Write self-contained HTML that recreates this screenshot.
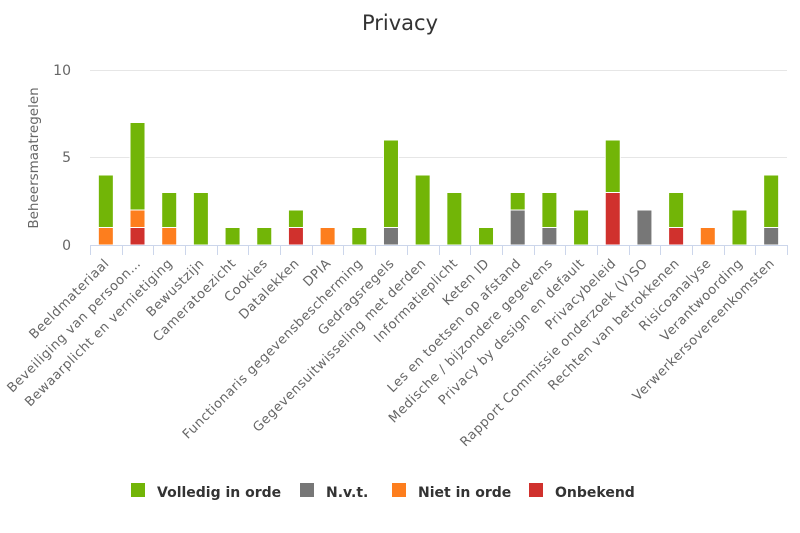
<!DOCTYPE html>
<html><head><meta charset="utf-8"><style>body{margin:0;background:#fff}svg{display:block;font-family:"DejaVu Sans","Liberation Sans",sans-serif}</style></head><body>
<svg width="800" height="533" xmlns="http://www.w3.org/2000/svg">
<text x="400" y="30" text-anchor="middle" font-size="21" fill="#333">Privacy</text>
<g stroke="#e6e6e6" stroke-width="1"><line x1="90" y1="70.5" x2="787" y2="70.5"/><line x1="90" y1="157.5" x2="787" y2="157.5"/></g>
<g font-size="14" fill="#666" text-anchor="end"><text x="71" y="75">10</text><text x="71" y="162">5</text><text x="71" y="250">0</text></g>
<text transform="translate(38,158) rotate(-90)" text-anchor="middle" font-size="13.5" fill="#666">Beheersmaatregelen</text>
<g id="bars"></g>
<line x1="90" y1="245.5" x2="787" y2="245.5" stroke="#ccd6eb"/>
<g id="ticks" stroke="#ccd6eb"></g>
<g id="labels" font-size="13" letter-spacing="0.55" fill="#666" text-anchor="end"></g>
<g font-size="14" font-weight="bold" fill="#333">
<rect x="131" y="483" width="14" height="14" fill="#72b507"/><text x="157" y="497">Volledig in orde</text>
<rect x="300" y="483" width="14" height="14" fill="#777"/><text x="326" y="497">N.v.t.</text>
<rect x="392" y="483" width="14" height="14" fill="#fd7e1e"/><text x="418" y="497">Niet in orde</text>
<rect x="529" y="483" width="14" height="14" fill="#d0312d"/><text x="555" y="497">Onbekend</text>
</g>
</svg>
<script>
var d=[["Beeldmateriaal",0,1,0,3],["Beveiliging van persoon…",1,1,0,5],["Bewaarplicht en vernietiging",0,1,0,2],["Bewustzijn",0,0,0,3],["Cameratoezicht",0,0,0,1],["Cookies",0,0,0,1],["Datalekken",1,0,0,1],["DPIA",0,1,0,0],["Functionaris gegevensbescherming",0,0,0,1],["Gedragsregels",0,0,1,5],["Gegevensuitwisseling met derden",0,0,0,4],["Informatieplicht",0,0,0,3],["Keten ID",0,0,0,1],["Les en toetsen op afstand",0,0,2,1],["Medische / bijzondere gegevens",0,0,1,2],["Privacy by design en default",0,0,0,2],["Privacybeleid",3,0,0,3],["Rapport Commissie onderzoek (V)SO",0,0,2,0],["Rechten van betrokkenen",1,0,0,2],["Risicoanalyse",0,1,0,0],["Verantwoording",0,0,0,2],["Verwerkersovereenkomsten",0,0,1,3]];
var col=["#d0312d","#fd7e1e","#777","#72b507"],w=697/22;
var b="",t="",l="";
for(var i=0;i<=22;i++){var x=Math.round(90+i*w)+.5;t+='<line x1="'+x+'" y1="245" x2="'+x+'" y2="255"/>';}
d.forEach(function(r,i){var c=90+(i+.5)*w,y=245;for(var k=1;k<5;k++){if(r[k]){var h=r[k]*17.5;y-=h;b+='<rect x="'+(c-7.5)+'" y="'+y+'" width="15" height="'+h+'" fill="'+col[k-1]+'" stroke="#fff" stroke-width="1"/>';}}
l+='<text transform="translate('+(c+4)+',264) rotate(-45)">'+r[0]+'</text>';});
document.getElementById("bars").innerHTML=b;document.getElementById("ticks").innerHTML=t;document.getElementById("labels").innerHTML=l;
</script>
</body></html>
